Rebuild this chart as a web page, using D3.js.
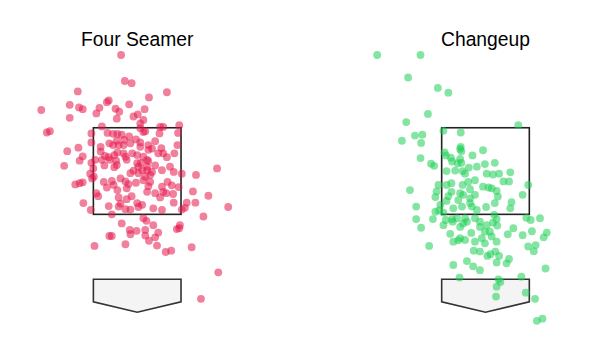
<!DOCTYPE html>
<html>
<head>
<meta charset="utf-8">
<script src="https://cdn.jsdelivr.net/npm/d3@7"></script>
<style>
  html, body { margin: 0; padding: 0; background: #ffffff; }
  svg { display: block; }
</style>
</head>
<body>
<div id="chart"></div>
<script>
// ---- data (pitch location: plate_x ft, plate_z ft) ----
const pitchTypes = ["Four Seamer", "Changeup"];
const pitchColors = ["#e5184c", "#1fcf55"];

const fourSeamer = [
[-0.26,5.18],[-0.20,4.58],[-0.09,4.53],[-0.96,4.34],[0.48,4.32],[0.19,4.20],[-1.55,3.91],[-1.09,4.03],[-0.94,3.97],[-0.88,3.93],
[-0.46,4.13],[-0.49,4.09],[-0.13,4.04],[-0.61,3.96],[-0.35,3.94],[-0.29,3.87],[0.12,3.93],[-0.66,3.83],[-1.09,3.73],[-0.33,3.71],
[-0.06,3.76],[0.01,3.81],[0.10,3.68],[0.05,3.60],[0.05,3.49],[-1.46,3.39],[-1.41,3.42],[-0.57,3.53],[-0.74,3.37],[0.37,3.52],
[0.42,3.52],[0.68,3.56],[0.36,3.37],[0.66,3.38],[-0.48,3.38],[-0.39,3.36],[-0.32,3.36],[-0.25,3.34],[-0.13,3.30],[-0.02,3.23],
[0.10,3.40],[0.13,3.42],[0.29,3.19],[0.65,3.10],[-1.13,2.96],[-0.95,3.04],[-0.74,3.16],[-0.59,3.06],[-0.45,3.14],[-0.39,3.10],
[-0.33,3.20],[-0.30,3.10],[-0.22,3.10],[-0.21,3.22],[-0.11,3.14],[0.05,3.06],[0.05,3.16],[0.18,3.10],[0.18,2.99],[0.24,3.02],
[0.39,3.03],[0.42,2.91],[0.48,2.82],[0.60,2.91],[0.34,2.91],[-0.37,2.87],[-0.46,2.82],[-0.34,2.74],[-0.19,2.83],[-0.08,2.91],
[0.10,2.83],[0.16,2.76],[0.00,2.87],[0.18,2.73],[0.02,2.60],[0.16,2.60],[0.29,2.63],[-0.88,2.84],[-0.93,2.74],[-1.18,2.62],
[-0.74,2.69],[-0.53,2.63],[1.29,2.56],[0.53,2.60],[-0.59,2.95],[-0.32,2.93],[-0.22,2.91],[-0.17,2.76],[-0.44,2.76],[-0.57,2.76],
[-0.68,2.76],[-0.33,2.64],[0.00,2.68],[-0.52,2.85],[-0.71,2.56],[-0.76,2.44],[-0.70,2.37],[-1.00,2.19],[-0.93,2.22],[-0.88,2.24],
[-0.73,2.33],[-0.87,1.76],[-0.75,1.60],[-0.66,1.99],[-0.63,1.92],[-0.37,2.59],[-0.54,2.25],[-0.41,2.27],[-0.38,2.18],[-0.27,2.33],
[-0.19,2.26],[-0.14,2.20],[-0.02,2.23],[-0.49,2.12],[-0.32,2.06],[-0.17,2.10],[-0.30,1.89],[-0.27,1.75],[-0.17,1.85],[-0.46,1.69],
[-0.30,1.68],[-0.19,1.62],[-0.11,1.61],[-0.41,1.50],[0.00,1.76],[0.02,1.67],[-0.09,1.92],[-0.11,2.45],[-0.06,2.51],[0.08,2.52],
[0.02,2.45],[0.16,2.52],[0.24,2.48],[0.21,2.41],[0.40,2.52],[0.13,2.37],[0.59,2.48],[0.72,2.44],[0.95,2.41],[0.49,2.25],
[0.56,2.17],[0.67,2.13],[0.42,2.02],[0.47,1.99],[0.37,1.89],[0.29,1.99],[0.16,2.02],[0.18,2.15],[0.21,2.25],[0.10,2.29],
[0.58,1.97],[0.90,2.03],[1.15,1.93],[0.80,1.77],[0.94,1.77],[0.59,1.77],[0.40,1.60],[0.26,1.64],[0.72,1.61],[0.77,1.65],
[0.08,1.72],[1.47,1.67],[1.07,1.45],[0.10,1.41],[0.15,1.35],[0.26,1.25],[0.69,1.25],[0.64,1.16],[0.68,1.18],[0.34,1.08],
[0.29,0.97],[0.13,1.14],[0.13,1.01],[0.19,0.89],[-0.01,1.12],[-0.11,1.04],[-0.12,1.14],[-0.25,1.29],[-0.45,1.00],[-0.41,1.00],
[-0.69,0.77],[-0.19,0.81],[0.32,0.78],[0.46,0.63],[0.55,0.66],[0.88,0.74],[1.31,0.16],[1.03,-0.45],[0.40,2.14],[0.06,2.69]
];

const changeup = [
[-1.75,5.18],[-1.05,5.18],[-1.25,4.66],[-0.77,4.42],[-0.60,4.31],[-0.93,3.82],[-1.28,3.63],[0.53,3.56],[-0.68,3.43],[-0.40,3.39],
[-1.14,3.32],[-1.02,3.34],[-1.35,3.20],[-1.04,3.15],[-0.40,3.06],[-0.41,3.01],[-0.39,2.96],[-0.04,2.98],[-0.21,2.86],[-0.66,2.93],
[-0.64,2.86],[-1.05,2.80],[-0.56,2.81],[-0.54,2.72],[-0.41,2.78],[-0.39,2.69],[-0.45,2.68],[-0.88,2.67],[-0.83,2.62],[-0.14,2.60],
[-0.01,2.66],[0.15,2.69],[-0.27,2.58],[-0.63,2.50],[-0.49,2.51],[-0.37,2.50],[-0.33,2.44],[0.02,2.44],[0.12,2.42],[0.22,2.44],
[0.40,2.47],[-0.28,2.25],[-0.17,2.29],[-0.37,2.18],[0.29,2.26],[0.38,2.26],[-1.22,2.06],[-0.76,2.18],[-0.79,2.03],[-0.81,1.90],
[-0.63,2.18],[-0.55,2.22],[-0.55,2.02],[-0.60,1.92],[-0.41,1.99],[-0.36,1.95],[-0.44,1.83],[-0.25,2.08],[-0.17,1.95],[-0.25,1.87],
[-0.25,1.76],[-0.22,1.68],[-0.04,2.14],[0.05,2.12],[0.10,2.10],[0.18,2.04],[0.20,1.91],[0.15,1.76],[0.69,2.18],[0.60,1.95],
[0.42,1.78],[0.40,1.64],[0.01,1.67],[-0.14,1.60],[-1.12,1.68],[-0.81,1.56],[-0.75,1.59],[-0.68,1.54],[-1.12,1.39],[-1.04,1.19],
[-0.85,1.39],[-0.68,1.25],[-0.64,1.37],[-0.54,1.39],[-0.46,1.41],[-0.53,1.33],[-0.41,1.21],[-0.36,1.29],[-0.30,1.33],[-0.33,1.41],
[-0.17,1.41],[-0.09,1.33],[-0.09,1.21],[0.02,1.25],[0.12,1.31],[0.14,1.49],[0.18,1.39],[0.19,1.24],[0.66,1.42],[0.73,1.37],
[0.88,1.41],[0.45,1.18],[0.75,1.11],[0.60,1.02],[0.99,1.08],[0.94,0.97],[-0.23,1.07],[-0.41,0.95],[-0.44,0.90],[-0.33,0.91],
[-0.57,1.05],[-0.52,0.87],[-0.17,0.87],[-0.06,0.95],[-0.01,0.83],[0.07,1.10],[0.10,0.99],[0.18,0.87],[0.36,1.04],[-0.19,0.66],
[-0.91,0.77],[0.03,0.54],[0.08,0.58],[0.16,0.64],[0.22,0.54],[0.38,0.47],[0.34,0.37],[0.18,0.39],[0.69,0.76],[0.81,0.79],
[0.78,0.65],[-0.30,0.42],[-0.20,0.30],[-0.09,0.21],[-0.52,0.33],[-0.42,0.04],[0.21,0.00],[0.24,-0.06],[0.18,-0.17],[0.17,-0.40],
[0.58,0.06],[0.97,0.25],[0.65,-0.31],[0.80,-0.45],[0.83,-0.96],[0.92,-0.91],[-0.01,1.10],[-0.09,0.64],[-0.63,1.81],[-0.38,1.68],
[-0.52,1.64],[-0.73,1.72]
];

// strike zone (ft) and home plate outline (ft)
const zoneX = [-0.708, 0.708];
const zoneZ = [1.5, 3.5];
const platePts = [[-0.708,0],[0.708,0],[0.708,-0.52],[0,-0.76],[-0.708,-0.52]];

// ---- layout ----
const W = 600, H = 342;
const panelCenters = [137.2, 485.5];
const pxPerFtX = 61.9;
const svg = d3.select("#chart").append("svg")
  .attr("width", W).attr("height", H)
  .attr("viewBox", `0 0 ${W} ${H}`);
svg.append("rect").attr("width", W).attr("height", H).attr("fill", "#fff");

const y = d3.scaleLinear().domain([0, 5]).range([279.3, 279.3 - 5 * 43.3]);

const datasets = [fourSeamer, changeup];

pitchTypes.forEach((name, i) => {
  const cx = panelCenters[i];
  const x = d3.scaleLinear().domain([-2, 2]).range([cx - 2 * pxPerFtX, cx + 2 * pxPerFtX]);
  const g = svg.append("g");

  g.append("text")
    .attr("x", cx).attr("y", 46)
    .attr("text-anchor", "middle")
    .attr("font-family", "'Liberation Sans', Arial, Helvetica, sans-serif")
    .attr("font-size", 19.3)
    .attr("fill", "#000")
    .text(name);

  // home plate
  g.append("path")
    .attr("d", d3.line().x(d => x(d[0])).y(d => y(d[1]))(platePts) + "Z")
    .attr("fill", "#f4f4f4")
    .attr("stroke", "#333")
    .attr("stroke-width", 1.6)
    .attr("stroke-linejoin", "miter");

  // strike zone
  g.append("rect")
    .attr("x", x(zoneX[0])).attr("y", y(zoneZ[1]))
    .attr("width", x(zoneX[1]) - x(zoneX[0]))
    .attr("height", y(zoneZ[0]) - y(zoneZ[1]))
    .attr("fill", "none")
    .attr("stroke", "#222")
    .attr("stroke-width", 1.6);

  // pitches
  g.selectAll("circle.p").data(datasets[i]).enter().append("circle")
    .attr("class", "p")
    .attr("cx", d => x(d[0]))
    .attr("cy", d => y(d[1]))
    .attr("r", 3.9)
    .attr("fill", pitchColors[i])
    .attr("fill-opacity", 0.55)
    .attr("stroke", "none");
});
</script>
</body>
</html>
